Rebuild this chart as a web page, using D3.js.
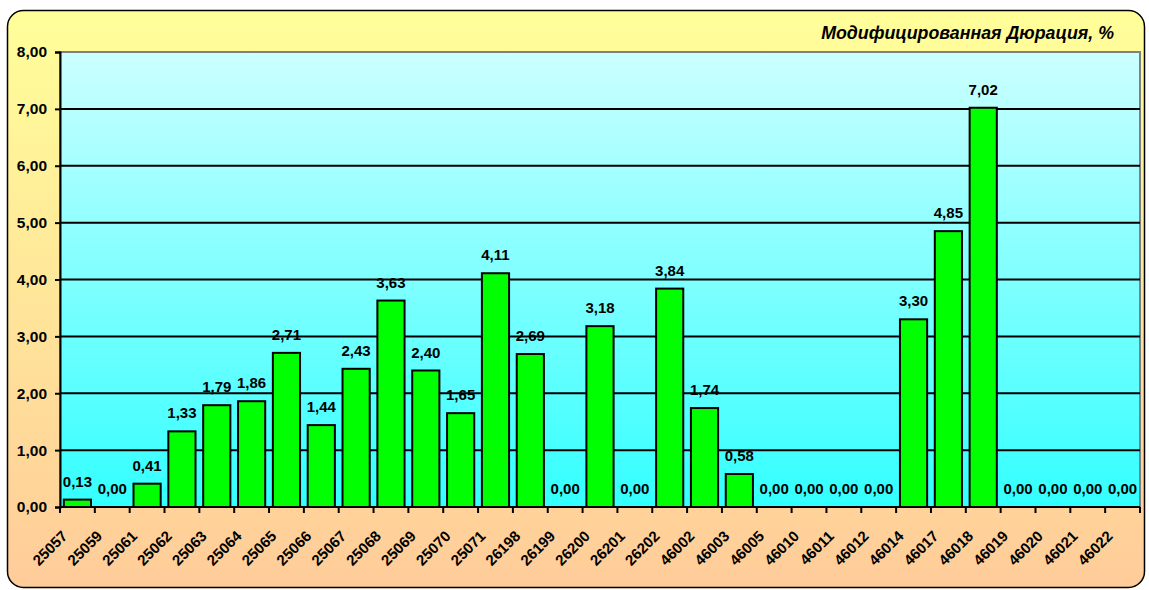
<!DOCTYPE html>
<html>
<head>
<meta charset="utf-8">
<script src="https://cdn.jsdelivr.net/npm/d3@7"></script>
<style>
  html, body { margin: 0; padding: 0; background: #fff; }
  svg text { font-family: "Liberation Sans", Arial, sans-serif; font-weight: bold; fill: #000; }
</style>
</head>
<body>
<script>
const codes = ['25057', '25059', '25061', '25062', '25063', '25064', '25065', '25066', '25067', '25068',
  '25069', '25070', '25071', '26198', '26199', '26200', '26201', '26202', '46002', '46003',
  '46005', '46010', '46011', '46012', '46014', '46017', '46018', '46019', '46020', '46021', '46022'];
const duration = [0.13, 0.00, 0.41, 1.33, 1.79, 1.86, 2.71, 1.44, 2.43, 3.63,
  2.40, 1.65, 4.11, 2.69, 0.00, 3.18, 0.00, 3.84, 1.74, 0.58,
  0.00, 0.00, 0.00, 0.00, 3.30, 4.85, 7.02, 0.00, 0.00, 0.00, 0.00];
const yTicks = [0, 1, 2, 3, 4, 5, 6, 7, 8];
const title = 'Модифицированная Дюрация, %';

const width = 1149, height = 590;
const plot = { left: 60, right: 1140, top: 52, bottom: 507 };
const fmt = v => v.toFixed(2).replace('.', ',');

const svg = d3.select('body').append('svg')
  .attr('width', width)
  .attr('height', height);

const defs = svg.append('defs');
const bg = defs.append('linearGradient').attr('id', 'bg').attr('x1', 0).attr('y1', 0).attr('x2', 0).attr('y2', 1);
bg.append('stop').attr('offset', '0%').attr('stop-color', '#ffff99');
bg.append('stop').attr('offset', '100%').attr('stop-color', '#ffcc99');
const pg = defs.append('linearGradient').attr('id', 'pg').attr('x1', 0).attr('y1', 0).attr('x2', 0).attr('y2', 1);
pg.append('stop').attr('offset', '0%').attr('stop-color', '#ccffff');
pg.append('stop').attr('offset', '100%').attr('stop-color', '#33ffff');

// chart frame
svg.append('rect')
  .attr('x', 7.5).attr('y', 10.5)
  .attr('width', 1137).attr('height', 577)
  .attr('rx', 16).attr('ry', 16)
  .attr('fill', 'url(#bg)')
  .attr('stroke', '#000').attr('stroke-width', 1.5);

const x = d3.scaleBand().domain(codes).range([plot.left, plot.right]).paddingInner(0.22).paddingOuter(0.11);
const y = d3.scaleLinear().domain([0, 8]).range([plot.bottom, plot.top]);

// plot area
svg.append('rect')
  .attr('x', plot.left).attr('y', plot.top)
  .attr('width', plot.right - plot.left).attr('height', plot.bottom - plot.top)
  .attr('fill', 'url(#pg)')
  .attr('stroke', '#808080').attr('stroke-width', 2);

// gridlines
svg.append('g').selectAll('line')
  .data(yTicks.filter(d => d > 0 && d < 8))
  .join('line')
  .attr('x1', plot.left).attr('x2', plot.right)
  .attr('y1', d => y(d)).attr('y2', d => y(d))
  .attr('stroke', '#000').attr('stroke-width', 2);

const rows = codes.map((c, i) => ({ code: c, value: duration[i] }));

// bars
svg.append('g').selectAll('rect')
  .data(rows.filter(d => d.value > 0))
  .join('rect')
  .attr('x', d => x(d.code))
  .attr('y', d => y(d.value))
  .attr('width', x.bandwidth())
  .attr('height', d => y(0) - y(d.value))
  .attr('fill', '#00ff00')
  .attr('stroke', '#000').attr('stroke-width', 2);

// value labels
svg.append('g').selectAll('text')
  .data(rows)
  .join('text')
  .attr('x', d => x(d.code) + x.bandwidth() / 2)
  .attr('y', d => y(d.value) - 13)
  .attr('text-anchor', 'middle')
  .style('font-size', '15px')
  .text(d => fmt(d.value));

// y axis
const yAxis = svg.append('g')
  .attr('transform', `translate(${plot.left},0)`)
  .call(d3.axisLeft(y).tickValues(yTicks).tickFormat(fmt).tickSize(5).tickPadding(8));
yAxis.select('.domain').attr('stroke', '#000').attr('stroke-width', 2);
yAxis.selectAll('.tick line').attr('stroke', '#000').attr('stroke-width', 2);
yAxis.selectAll('.tick text').style('font-size', '15.5px').attr('font-family', null);

// x axis
const step = x.step();
const xAxisG = svg.append('g').attr('transform', `translate(0,${plot.bottom})`);
xAxisG.append('line')
  .attr('x1', plot.left).attr('x2', plot.right)
  .attr('stroke', '#000').attr('stroke-width', 2);
xAxisG.selectAll('line.tk')
  .data(d3.range(codes.length + 1))
  .join('line')
  .attr('class', 'tk')
  .attr('x1', i => plot.left + i * step).attr('x2', i => plot.left + i * step)
  .attr('y1', 0).attr('y2', 6)
  .attr('stroke', '#000').attr('stroke-width', 2);
xAxisG.selectAll('text')
  .data(codes)
  .join('text')
  .attr('transform', d => `translate(${x(d) + x.bandwidth() / 2 - 9},${30}) rotate(-45)`)
  .attr('text-anchor', 'end')
  .style('font-size', '15px')
  .text(d => d);

// title
svg.append('text')
  .attr('x', 1114).attr('y', 39)
  .attr('text-anchor', 'end')
  .style('font-size', '17.8px')
  .style('font-style', 'italic')
  .text(title);
</script>
</body>
</html>
